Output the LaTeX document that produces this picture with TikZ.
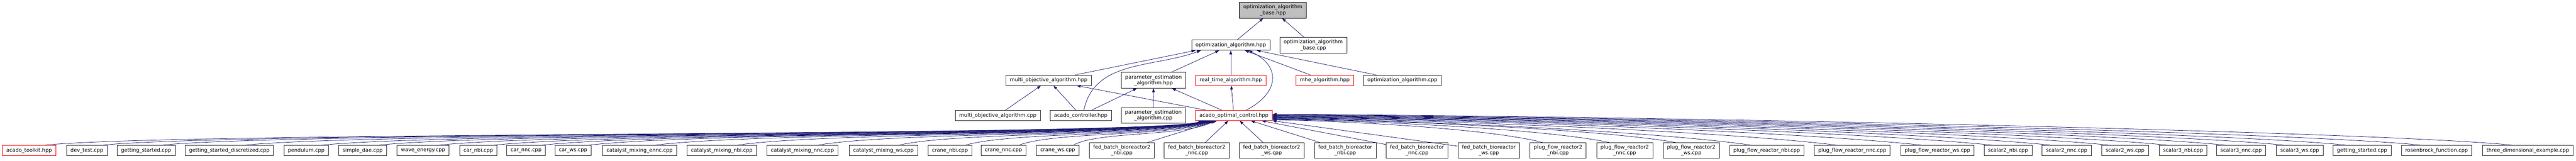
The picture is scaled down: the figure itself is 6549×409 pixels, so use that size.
\documentclass[tikz,border=0pt]{standalone}
\usepackage{fontspec}
\setmainfont{DejaVu Sans}
\usepackage{tikz}
\usetikzlibrary{positioning}
\usetikzlibrary{arrows.meta}
\definecolor{edgeblue}{HTML}{191970}

\begin{document}
\begin{tikzpicture}[x=1pt,y=1pt,node distance=24pt,
        file/.style={draw=black!85, line width=1pt, fill=white, align=center,
            font=\fontsize{13}{15}\selectfont, inner xsep=10pt, inner ysep=6pt, minimum height=26pt},
        trunc/.style={file, draw=red},
        focus/.style={file, draw=black, fill=black!25},
        edge/.style={draw=edgeblue, line width=1pt, -{Triangle[length=10pt,width=7pt]}}]
        \useasboundingbox (0,0) rectangle (6549,409);

        % Nodes
        \node[focus]               (oabh) at (3236,383) {optimization\_algorithm\\\_base.hpp};
        \node[file]                (oah) at (3129,294) {optimization\_algorithm.hpp};
        \node[file, right=of oah]  (oabc) {optimization\_algorithm\\\_base.cpp};

        \node[trunc]               (rta) at (3129,204.5) {real\_time\_algorithm.hpp};
        \node[file, left=of rta]   (peh) {parameter\_estimation\\\_algorithm.hpp};
        \node[file, left=75pt of peh] (moh) {multi\_objective\_algorithm.hpp};
        \node[trunc, right=75pt of rta] (mhe) {mhe\_algorithm.hpp};
        \node[file, right=of mhe]  (oac) {optimization\_algorithm.cpp};

        \node[trunc]               (aoc) at (3137,115) {acado\_optimal\_control.hpp};
        \node[file, left=of aoc]   (pec) {parameter\_estimation\\\_algorithm.cpp};
        \node[file, left=of pec]   (ach) {acado\_controller.hpp};
        \node[file, left=of ach]   (moc) {multi\_objective\_algorithm.cpp};

        \node[trunc] (tk)     at (74,26)     {acado\_toolkit.hpp};
        \node[file]  (dev)    at (221,26)    {dev\_test.cpp};
        \node[file]  (gs)     at (371.5,26)  {getting\_started.cpp};
        \node[file]  (gsd)    at (583,26)    {getting\_started\_discretized.cpp};
        \node[file]  (pend)   at (778.5,26)  {pendulum.cpp};
        \node[file]  (sdae)   at (922,26)    {simple\_dae.cpp};
        \node[file]  (wave)   at (1075.5,26) {wave\_energy.cpp};
        \node[file]  (carnbi) at (1216,26)   {car\_nbi.cpp};
        \node[file]  (carnnc) at (1337.5,26) {car\_nnc.cpp};
        \node[file]  (carws)  at (1457,26)   {car\_ws.cpp};
        \node[file]  (cmennc) at (1626,26)   {catalyst\_mixing\_ennc.cpp};
        \node[file]  (cmnbi)  at (1835,26)   {catalyst\_mixing\_nbi.cpp};
        \node[file]  (cmnnc)  at (2040,26)   {catalyst\_mixing\_nnc.cpp};
        \node[file]  (cmws)   at (2246,26)   {catalyst\_mixing\_ws.cpp};
        \node[file]  (crnbi)  at (2415,26)   {crane\_nbi.cpp};
        \node[file]  (crnnc)  at (2551,26)   {crane\_nnc.cpp};
        \node[file]  (crws)   at (2689,26)   {crane\_ws.cpp};
        \node[file]  (fbr2nbi) at (2852,26)  {fed\_batch\_bioreactor2\\\_nbi.cpp};
        \node[file]  (fbr2nnc) at (3042.5,26) {fed\_batch\_bioreactor2\\\_nnc.cpp};
        \node[file]  (fbr2ws)  at (3233,26)  {fed\_batch\_bioreactor2\\\_ws.cpp};
        \node[file]  (fbrnbi)  at (3420,26)  {fed\_batch\_bioreactor\\\_nbi.cpp};
        \node[file]  (fbrnnc)  at (3602.5,26) {fed\_batch\_bioreactor\\\_nnc.cpp};
        \node[file]  (fbrws)   at (3785,26)  {fed\_batch\_bioreactor\\\_ws.cpp};
        \node[file]  (pfr2nbi) at (3961,26)  {plug\_flow\_reactor2\\\_nbi.cpp};
        \node[file]  (pfr2nnc) at (4130.5,26) {plug\_flow\_reactor2\\\_nnc.cpp};
        \node[file]  (pfr2ws)  at (4299.5,26) {plug\_flow\_reactor2\\\_ws.cpp};
        \node[file]  (pfrnbi)  at (4491.5,26) {plug\_flow\_reactor\_nbi.cpp};
        \node[file]  (pfrnnc)  at (4709,26)  {plug\_flow\_reactor\_nnc.cpp};
        \node[file]  (pfrws)   at (4925.5,26) {plug\_flow\_reactor\_ws.cpp};
        \node[file]  (sc2nbi)  at (5105,26)  {scalar2\_nbi.cpp};
        \node[file]  (sc2nnc)  at (5254,26)  {scalar2\_nnc.cpp};
        \node[file]  (sc2ws)   at (5402.5,26) {scalar2\_ws.cpp};
        \node[file]  (sc3nbi)  at (5550,26)  {scalar3\_nbi.cpp};
        \node[file]  (sc3nnc)  at (5697.5,26) {scalar3\_nnc.cpp};
        \node[file]  (sc3ws)   at (5846.5,26) {scalar3\_ws.cpp};
        \node[file]  (gs2)     at (6005,26)  {getting\_started.cpp};
        \node[file]  (rosen)   at (6194.5,26) {rosenbrock\_function.cpp};
        \node[file]  (three)   at (6426.5,26) {three\_dimensional\_example.cpp};

        % Edges
        \draw[edge] (oah) -- (oabh);
        \draw[edge] (oabc) -- (oabh);

        \draw[edge] (moh) -- ([xshift=10pt]oah.south west);
        \draw[edge] ([xshift=8pt]ach.north) to[out=78,in=200] ([xshift=24pt]oah.south west);
        \draw[edge] (peh) -- (oah);
        \draw[edge] (rta) -- (oah);
        \draw[edge] ([xshift=31pt]aoc.north) .. controls +(82,42) and +(86,-41.5) .. ([xshift=45pt]oah.south);
        \draw[edge] (mhe) -- (oah);
        \draw[edge] (oac) -- (oah);

        \draw[edge] (moc) -- (moh);
        \draw[edge] (ach) -- (moh);
        \draw[edge] (aoc) -- (moh);
        \draw[edge] (ach) -- (peh);
        \draw[edge] (pec) -- (peh);
        \draw[edge] (aoc) -- (peh);
        \draw[edge] (aoc) -- (rta);

        % left fan into acado_optimal_control
        \foreach \n/\a/\b/\d in {tk/350/120/18, dev/350/120/20, gs/350/120/22, gsd/350/120/24,
                pend/350/120/26, sdae/350/120/28, wave/350/120/30, carnbi/350/120/32,
                carnnc/340/120/34, carws/310/120/36, cmennc/280/120/38, cmnbi/240/120/40,
                cmnnc/200/120/42, cmws/150/120/44, crnbi/120/110/46, crnnc/90/100/48, crws/60/80/50}
            \draw[edge] ([xshift=40pt]\n.north) .. controls +(\a,35) and +(-\b,-40) .. ([xshift=\d]aoc.south west);

        \foreach \n in {fbr2nbi, fbr2nnc, fbr2ws, fbrnbi, fbrnnc, fbrws}
            \draw[edge] (\n) -- (aoc);

        % right fan into acado_optimal_control
        \foreach \n/\a/\b/\d in {pfr2nbi/137/205/-11, pfr2nnc/170/256/-10, pfr2ws/205/307/-9,
                pfrnbi/243/364/-8, pfrnnc/286/430/-7, pfrws/330/494/-6, sc2nbi/350/548/-5,
                sc2nnc/350/593/-4, sc2ws/350/638/-3, sc3nbi/350/682/-2, sc3nnc/350/726/-1,
                sc3ws/350/771/0, gs2/350/818/1, rosen/350/875/2, three/350/945/3}
            \draw[edge] ([xshift=-40pt]\n.north) .. controls +(-\a,35) and +(\b,-4) .. ([yshift=\d]aoc.east);
    \end{tikzpicture}
\end{document}
